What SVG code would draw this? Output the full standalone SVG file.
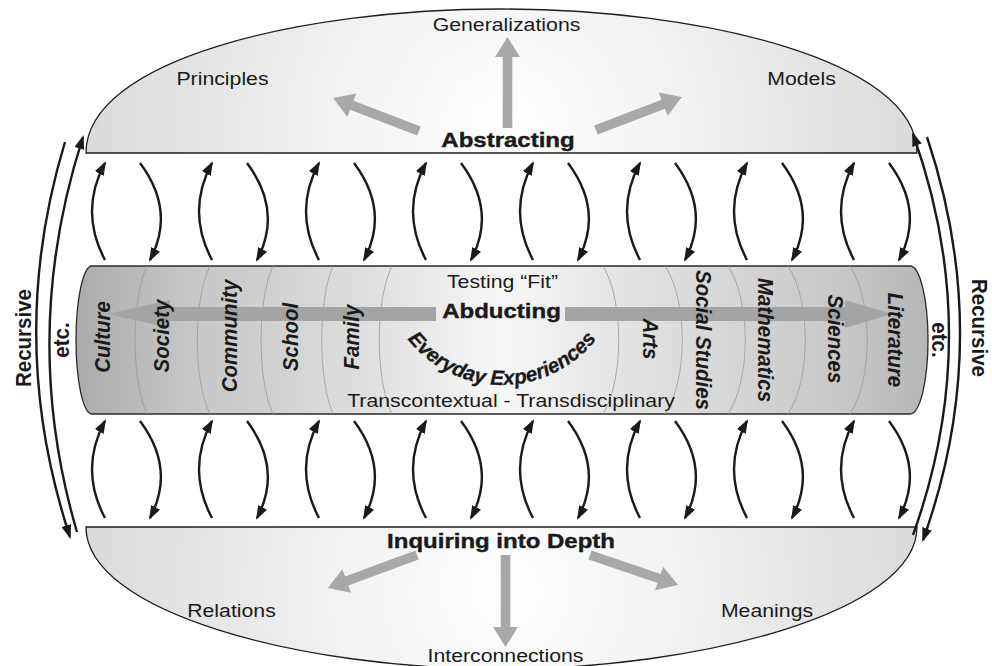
<svg xmlns="http://www.w3.org/2000/svg" width="992" height="666" viewBox="0 0 992 666">
<defs>
<style>
.t{font-family:"Liberation Sans",Arial,Helvetica,sans-serif;fill:#1a1a1a;font-size:18.5px}
.b{font-weight:bold;font-size:20px;stroke:#1a1a1a;stroke-width:0.4}
.r{font-family:"Liberation Sans",Arial,Helvetica,sans-serif;fill:#1a1a1a;font-weight:bold;font-style:italic;font-size:20.5px}
.ru{font-family:"Liberation Sans",Arial,Helvetica,sans-serif;fill:#1a1a1a;font-weight:bold;font-size:20.5px}
.dome{stroke:#1e1e1e;stroke-width:1.3}
.garrow{fill:#a8a8a8}
.sep{fill:none;stroke:#999;stroke-width:0.8}
.con{fill:none;stroke:#1a1a1a;stroke-width:2.4;marker-end:url(#ah)}
</style>
<marker id="ah" viewBox="0 0 14 10" refX="12" refY="5" markerWidth="14" markerHeight="10" markerUnits="userSpaceOnUse" orient="auto">
<path d="M0,0 L14,5 L0,10 z" fill="#1a1a1a"/>
</marker>
<radialGradient id="gTop" gradientUnits="userSpaceOnUse" cx="505" cy="130" r="460">
<stop offset="0" stop-color="#ffffff"/>
<stop offset="0.35" stop-color="#f3f3f3"/>
<stop offset="1" stop-color="#d6d6d6"/>
</radialGradient>
<radialGradient id="gBot" gradientUnits="userSpaceOnUse" cx="505" cy="590" r="460">
<stop offset="0" stop-color="#ffffff"/>
<stop offset="0.35" stop-color="#f3f3f3"/>
<stop offset="1" stop-color="#d6d6d6"/>
</radialGradient>
<linearGradient id="gCyl" gradientUnits="userSpaceOnUse" x1="76" y1="0" x2="928" y2="0">
<stop offset="0" stop-color="#ababab"/>
<stop offset="0.12" stop-color="#c4c4c4"/>
<stop offset="0.33" stop-color="#dddddd"/>
<stop offset="0.5" stop-color="#f7f7f7"/>
<stop offset="0.66" stop-color="#e1e1e1"/>
<stop offset="0.88" stop-color="#cacaca"/>
<stop offset="1" stop-color="#b6b6b6"/>
</linearGradient>
<path id="arcp" d="M386.1,296.1 A120,120 0 0 0 617.9,296.1"/>
</defs>

<g id="abstracting">
<path class="dome" fill="url(#gTop)" d="M86,153 C86,60 300,9 501,9 C700,9 917,60 917,153 Z"/>
<polygon class="garrow" points="0,-4.8 71,-4.8 71,-12.5 91,0 71,12.5 71,4.8 0,4.8" transform="translate(507.5,128) rotate(-90)"/>
<polygon class="garrow" points="0,-4.8 72,-4.8 72,-12.5 92,0 72,12.5 72,4.8 0,4.8" transform="translate(419,131) rotate(-159)"/>
<polygon class="garrow" points="0,-4.8 72,-4.8 72,-12.5 92,0 72,12.5 72,4.8 0,4.8" transform="translate(596,130) rotate(-21)"/>
<text class="t" text-anchor="middle" transform="translate(506.5,31) scale(1.15,1)">Generalizations</text>
<text class="t" text-anchor="middle" transform="translate(222.5,85) scale(1.15,1)">Principles</text>
<text class="t" text-anchor="middle" transform="translate(801.5,85) scale(1.15,1)">Models</text>
<text class="t b" text-anchor="middle" transform="translate(508,147) scale(1.2,1)">Abstracting</text>
</g>

<g id="inquiring">
<path class="dome" fill="url(#gBot)" d="M86,527 H917 C917,612 700,669 501,669 C300,669 86,612 86,527 Z"/>
<polygon class="garrow" points="0,-4.8 75,-4.8 75,-12.5 95,0 75,12.5 75,4.8 0,4.8" transform="translate(417,555) rotate(159.7)"/>
<polygon class="garrow" points="0,-4.8 72,-4.8 72,-12.5 92,0 72,12.5 72,4.8 0,4.8" transform="translate(505.5,555) rotate(90)"/>
<polygon class="garrow" points="0,-4.8 73,-4.8 73,-12.5 93,0 73,12.5 73,4.8 0,4.8" transform="translate(590,555) rotate(18.8)"/>
<text class="t b" text-anchor="middle" transform="translate(501,548) scale(1.2,1)">Inquiring into Depth</text>
<text class="t" text-anchor="middle" transform="translate(231.5,617) scale(1.15,1)">Relations</text>
<text class="t" text-anchor="middle" transform="translate(767,617) scale(1.15,1)">Meanings</text>
<text class="t" text-anchor="middle" transform="translate(505.5,662) scale(1.15,1)">Interconnections</text>
</g>

<g id="abducting">
<path fill="url(#gCyl)" stroke="#2a2a2a" stroke-width="1.3" d="M92,266 H910 A18,74 0 0 1 910,414 H92 A16,74 0 0 1 92,266 Z"/>
<path class="sep" d="M147,266 C131,300 131,380 147,414"/>
<path class="sep" d="M210,266 C193,300 193,380 210,414"/>
<path class="sep" d="M273,266 C257,300 257,380 273,414"/>
<path class="sep" d="M333,266 C318,300 318,380 333,414"/>
<path class="sep" d="M392,266 C375,300 375,380 392,414"/>
<path class="sep" d="M603,266 C624,300 624,380 603,414"/>
<path class="sep" d="M665,266 C688,300 688,380 665,414"/>
<path class="sep" d="M728,266 C751,300 751,380 728,414"/>
<path class="sep" d="M788,266 C811,300 811,380 788,414"/>
<path class="sep" d="M850,266 C873,300 873,380 850,414"/>
<polygon fill="#a4a4a4" points="107,314 170,300 170,307 436,307 436,321 170,321 170,328"/>
<polygon fill="#a4a4a4" points="565,307 845,307 845,300 892,314 845,328 845,321 565,321"/>
<text class="t" text-anchor="middle" transform="translate(502.5,288) scale(1.15,1)">Testing “Fit”</text>
<text class="t b" text-anchor="middle" transform="translate(501.5,318) scale(1.2,1)">Abducting</text>
<text class="r" font-size="20.5" stroke="#1a1a1a" stroke-width="0.3"><textPath href="#arcp" startOffset="50%" text-anchor="middle">Everyday Experiences</textPath></text>
<text class="t" text-anchor="middle" transform="translate(511,407) scale(1.15,1)">Transcontextual - Transdisciplinary</text>
</g>

<g id="context-labels">
<text class="r" text-anchor="middle" transform="translate(110,337) scale(1.1,1) rotate(-90)">Culture</text>
<text class="r" text-anchor="middle" transform="translate(169,336) scale(1.1,1) rotate(-90)">Society</text>
<text class="r" text-anchor="middle" transform="translate(237,336) scale(1.1,1) rotate(-90)">Community</text>
<text class="r" text-anchor="middle" transform="translate(298,337) scale(1.1,1) rotate(-90)">School</text>
<text class="r" text-anchor="middle" transform="translate(359,337) scale(1.1,1) rotate(-90)">Family</text>
<text class="r" text-anchor="middle" transform="translate(643,339) scale(1.1,1) rotate(90)">Arts</text>
<text class="r" text-anchor="middle" transform="translate(696,340) scale(1.1,1) rotate(90)">Social Studies</text>
<text class="r" text-anchor="middle" transform="translate(758,340) scale(1.1,1) rotate(90)">Mathematics</text>
<text class="r" text-anchor="middle" transform="translate(828,339) scale(1.1,1) rotate(90)">Sciences</text>
<text class="r" text-anchor="middle" transform="translate(888,340) scale(1.1,1) rotate(90)">Literature</text>
</g>

<g id="recursive-left">
<text class="ru" text-anchor="middle" transform="translate(31,338) scale(1.1,1) rotate(-90)">Recursive</text>
<text class="ru" text-anchor="middle" transform="translate(69,340) scale(1.1,1) rotate(-90)">etc.</text>
</g>
<g id="recursive-right">
<text class="ru" text-anchor="middle" transform="translate(932,340) scale(1.1,1) rotate(90)">etc.</text>
<text class="ru" text-anchor="middle" transform="translate(972,328) scale(1.05,1) rotate(90)">Recursive</text>
</g>

<g id="connectors">
<path class="con" d="M105,260 Q79,211 105,163"/>
<path class="con" d="M140,163 Q176,211 150,260"/>
<path class="con" d="M212,260 Q186,211 212,163"/>
<path class="con" d="M247,163 Q283,211 257,260"/>
<path class="con" d="M319,260 Q293,211 319,163"/>
<path class="con" d="M354,163 Q390,211 364,260"/>
<path class="con" d="M426,260 Q400,211 426,163"/>
<path class="con" d="M461,163 Q497,211 471,260"/>
<path class="con" d="M533,260 Q507,211 533,163"/>
<path class="con" d="M568,163 Q604,211 578,260"/>
<path class="con" d="M640,260 Q614,211 640,163"/>
<path class="con" d="M675,163 Q711,211 685,260"/>
<path class="con" d="M747,260 Q721,211 747,163"/>
<path class="con" d="M782,163 Q818,211 792,260"/>
<path class="con" d="M854,260 Q828,211 854,163"/>
<path class="con" d="M889,163 Q925,211 899,260"/>

<path class="con" d="M105,518 Q79,469 105,421"/>
<path class="con" d="M140,421 Q176,469 150,518"/>
<path class="con" d="M212,518 Q186,469 212,421"/>
<path class="con" d="M247,421 Q283,469 257,518"/>
<path class="con" d="M319,518 Q293,469 319,421"/>
<path class="con" d="M354,421 Q390,469 364,518"/>
<path class="con" d="M426,518 Q400,469 426,421"/>
<path class="con" d="M461,421 Q497,469 471,518"/>
<path class="con" d="M533,518 Q507,469 533,421"/>
<path class="con" d="M568,421 Q604,469 578,518"/>
<path class="con" d="M640,518 Q614,469 640,421"/>
<path class="con" d="M675,421 Q711,469 685,518"/>
<path class="con" d="M747,518 Q721,469 747,421"/>
<path class="con" d="M782,421 Q818,469 792,518"/>
<path class="con" d="M854,518 Q828,469 854,421"/>
<path class="con" d="M889,421 Q925,469 899,518"/>

<path class="con" stroke-width="2.2" d="M65,142 Q5,340 70,537"/>
<path class="con" stroke-width="2.2" d="M77,532 Q19,335 83,137"/>
<path class="con" stroke-width="2.2" d="M913,535 Q985,335 913,134"/>
<path class="con" stroke-width="2.2" d="M927,137 Q995,340 923,540"/>
</g>
</svg>
